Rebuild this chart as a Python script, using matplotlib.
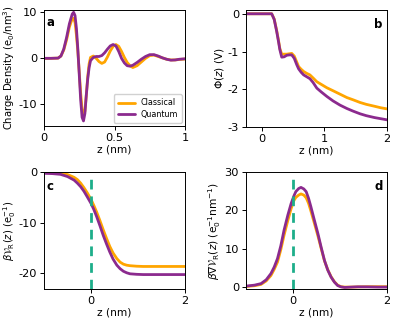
import matplotlib
matplotlib.use("Agg")
import matplotlib.pyplot as plt

ORANGE = "#FFA500"
PURPLE = "#8B2A8E"
TEAL = "#1DAE8A"

# Panel a: charge density
za = [0, 0.05, 0.10, 0.12, 0.14, 0.16, 0.18, 0.20, 0.21, 0.22, 0.23, 0.24, 0.25, 0.26,
      0.27, 0.28, 0.29, 0.30, 0.31, 0.32, 0.33, 0.35, 0.37, 0.39, 0.41, 0.43, 0.45, 0.47,
      0.49, 0.51, 0.53, 0.55, 0.57, 0.59, 0.61, 0.63, 0.66, 0.69, 0.72, 0.75, 0.78, 0.81,
      0.84, 0.87, 0.90, 0.93, 0.96, 1.0]
rho_quantum = [0, 0, 0.05, 0.5, 2.0, 4.5, 7.5, 9.6, 10.0, 9.3, 6.5, 2.0, -3.5, -9.0,
               -12.8, -13.6, -12.0, -8.0, -4.5, -2.0, -0.5, 0.2, 0.4, 0.4, 0.6, 1.2, 2.0, 2.7,
               3.0, 2.7, 1.5, 0.0, -1.0, -1.6, -1.7, -1.5, -0.9, -0.2, 0.4, 0.8, 0.8, 0.5,
               0.1, -0.2, -0.4, -0.35, -0.2, -0.1]
rho_classical = [0, 0, 0.05, 0.5, 1.8, 4.0, 6.8, 8.6, 8.7, 7.8, 5.0, 1.5, -3.0, -7.5,
                 -11.0, -12.4, -11.5, -8.0, -4.0, -1.2, 0.2, 0.5, 0.0, -0.7, -1.1, -0.8, 0.3, 1.6,
                 2.6, 3.0, 2.6, 1.5, 0.2, -0.9, -1.6, -2.0, -1.6, -0.8, 0.0, 0.6, 0.7, 0.4,
                 0.1, -0.2, -0.35, -0.35, -0.25, -0.15]

# Panel b: potential
zb = [-0.25, 0.0, 0.10, 0.16, 0.20, 0.24, 0.27, 0.29, 0.32, 0.36, 0.40, 0.44, 0.48, 0.52,
      0.56, 0.59, 0.63, 0.67, 0.72, 0.77, 0.82, 0.88, 0.95, 1.04, 1.14, 1.25, 1.36, 1.46,
      1.57, 1.67, 1.80, 1.90, 2.0]
phi_quantum = [0, 0, 0, 0, -0.15, -0.47, -0.75, -0.95, -1.15, -1.14, -1.10, -1.09, -1.09, -1.18,
               -1.35, -1.46, -1.55, -1.62, -1.67, -1.72, -1.82, -1.97, -2.07, -2.19, -2.31, -2.42, -2.51, -2.58,
               -2.65, -2.70, -2.75, -2.78, -2.81]
phi_classical = [0, 0, 0, 0, -0.14, -0.45, -0.72, -0.92, -1.07, -1.07, -1.07, -1.06, -1.05, -1.12,
                 -1.28, -1.40, -1.47, -1.53, -1.58, -1.62, -1.70, -1.80, -1.87, -1.96, -2.04, -2.13, -2.22, -2.28,
                 -2.35, -2.40, -2.45, -2.49, -2.52]

# Panel c
zc = [-1.0, -0.82, -0.65, -0.50, -0.36, -0.29, -0.22, -0.15, -0.08, 0.0, 0.06, 0.12, 0.19,
      0.26, 0.33, 0.40, 0.47, 0.55, 0.62, 0.69, 0.76, 0.83, 0.97, 1.11, 1.4, 1.7, 2.0]
vr_quantum = [-0.26, -0.32, -0.46, -0.9, -1.6, -2.2, -2.9, -3.8, -4.9, -6.2, -7.4, -8.8, -10.6,
              -12.5, -14.2, -15.8, -17.2, -18.4, -19.1, -19.6, -19.9, -20.1, -20.2, -20.25, -20.25, -20.25, -20.25]
vr_classical = [-0.1, -0.14, -0.2, -0.5, -1.05, -1.5, -2.2, -3.1, -4.1, -5.4, -6.6, -7.9, -9.6,
                -11.4, -13.1, -14.7, -16.0, -17.1, -17.8, -18.2, -18.4, -18.5, -18.6, -18.65, -18.65, -18.65, -18.65]

# Panel d
zd = [-1.0, -0.82, -0.68, -0.57, -0.47, -0.40, -0.33, -0.26, -0.19, -0.11, -0.04, 0.02, 0.06,
      0.12, 0.17, 0.23, 0.28, 0.33, 0.38, 0.45, 0.53, 0.60, 0.67, 0.74, 0.81, 0.88, 0.95,
      1.02, 1.10, 1.25, 1.38, 1.6, 1.8, 2.0]
gvr_quantum = [0.35, 0.6, 1.0, 2.0, 3.6, 5.3, 7.5, 10.8, 14.9, 18.8, 21.8, 23.8, 24.9,
               25.7, 26.0, 25.6, 24.9, 23.2, 21.0, 17.7, 14.0, 10.4, 7.0, 4.5, 2.7, 1.4, 0.5,
               0.15, 0.0, 0.1, 0.17, 0.15, 0.1, 0.1]
gvr_classical = [0.25, 0.45, 0.8, 1.7, 3.1, 4.7, 6.6, 9.8, 13.6, 17.4, 20.5, 22.6, 23.4,
                 24.0, 24.3, 24.0, 23.3, 21.9, 19.9, 16.9, 13.4, 10.1, 6.9, 4.6, 2.8, 1.5, 0.6,
                 0.2, 0.1, 0.1, 0.15, 0.2, 0.2, 0.2]

plt.rcParams["font.family"] = "DejaVu Sans"
plt.rcParams["font.size"] = 7.6
plt.rcParams["xtick.labelsize"] = 8.2
plt.rcParams["ytick.labelsize"] = 8.2
plt.rcParams["axes.linewidth"] = 0.7
plt.rcParams["xtick.major.size"] = 3
plt.rcParams["ytick.major.size"] = 3
plt.rcParams["xtick.major.width"] = 0.7
plt.rcParams["ytick.major.width"] = 0.7
plt.rcParams["xtick.major.pad"] = 2
plt.rcParams["ytick.major.pad"] = 2

fig = plt.figure(figsize=(3.99, 3.26), dpi=100)
W, H = 399, 326

def axes_px(l, t, r, b):
    return fig.add_axes([l / W, 1 - b / H, (r - l) / W, (b - t) / H])

ax_a = axes_px(44, 10, 185, 126)
ax_b = axes_px(246, 10, 387, 127)
ax_c = axes_px(44, 172, 185, 289)
ax_d = axes_px(246, 172, 387, 289)

LW = 2.0
kw = dict(lw=LW, solid_capstyle="round", solid_joinstyle="round")

ax_a.plot(za, rho_classical, color=ORANGE, label="Classical", **kw)
ax_a.plot(za, rho_quantum, color=PURPLE, label="Quantum", **kw)
ax_a.set_xlim(0, 1)
ax_a.set_ylim(-14.7, 10.5)
ax_a.set_xticks([0, 0.5, 1])
ax_a.set_xticklabels(["0", "0.5", "1"])
ax_a.set_yticks([-10, 0, 10])
ax_a.set_yticklabels(["-10", "0", "10"])
ax_a.set_xlabel("z (nm)", labelpad=1)
ax_a.set_ylabel(r"Charge Density (e$_0$/nm$^3$)", labelpad=1, fontsize=7.2)
leg = ax_a.legend(loc="lower right", fontsize=5.8, handlelength=2.2, borderpad=0.5,
                  labelspacing=0.3, handletextpad=0.6, borderaxespad=0.4, framealpha=0.9)
ax_a.text(0.02, 0.95, "a", transform=ax_a.transAxes, fontweight="bold", fontsize=8.5,
          va="top", ha="left")

ax_b.plot(zb, phi_classical, color=ORANGE, **kw)
ax_b.plot(zb, phi_quantum, color=PURPLE, **kw)
ax_b.set_xlim(-0.25, 2)
ax_b.set_ylim(-3, 0.1)
ax_b.set_xticks([0, 1, 2])
ax_b.set_yticks([-3, -2, -1, 0])
ax_b.set_yticklabels(["-3", "-2", "-1", "0"])
ax_b.set_xlabel("z (nm)", labelpad=1)
ax_b.set_ylabel(r"$\Phi(z)$ (V)", labelpad=1)
ax_b.text(0.97, 0.93, "b", transform=ax_b.transAxes, fontweight="bold", fontsize=8.5,
          va="top", ha="right")

ax_c.plot(zc, vr_classical, color=ORANGE, **kw)
ax_c.plot(zc, vr_quantum, color=PURPLE, **kw)
ax_c.axvline(0, color=TEAL, lw=2, ls=(0, (3.5, 2.5)))
ax_c.set_xlim(-1, 2)
ax_c.set_ylim(-23.1, 0)
ax_c.set_xticks([0, 2])
ax_c.set_yticks([-20, -10, 0])
ax_c.set_yticklabels(["-20", "-10", "0"])
ax_c.set_xlabel("z (nm)", labelpad=1)
ax_c.set_ylabel(r"$\beta\mathcal{V}_{\rm R}(z)$ (e$_0^{-1}$)", labelpad=0.5, fontsize=7.2)
ax_c.text(0.02, 0.93, "c", transform=ax_c.transAxes, fontweight="bold", fontsize=8.5,
          va="top", ha="left")

ax_d.plot(zd, gvr_classical, color=ORANGE, **kw)
ax_d.plot(zd, gvr_quantum, color=PURPLE, **kw)
ax_d.axvline(0, color=TEAL, lw=2, ls=(0, (3.5, 2.5)))
ax_d.set_xlim(-1, 2)
ax_d.set_ylim(-0.4, 30)
ax_d.set_xticks([0, 2])
ax_d.set_yticks([0, 10, 20, 30])
ax_d.set_xlabel("z (nm)", labelpad=1)
ax_d.set_ylabel(r"$\beta\nabla\mathcal{V}_{\rm R}(z)$ (e$_0^{-1}$nm$^{-1}$)", labelpad=1)
ax_d.text(0.97, 0.93, "d", transform=ax_d.transAxes, fontweight="bold", fontsize=8.5,
          va="top", ha="right")

fig.savefig("out.png", dpi=100)
